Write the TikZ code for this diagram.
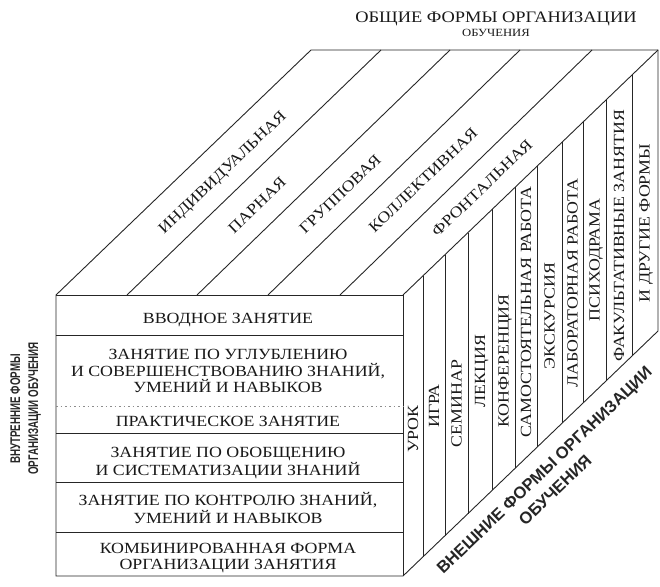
\documentclass[tikz,border=0pt]{standalone}
\usepackage{fontspec}
\setmainfont{Liberation Serif}[FakeStretch=1.15]
\newfontfamily\sansw{Liberation Sans}
\newfontfamily\sansn{Liberation Sans}[FakeStretch=0.7]
\usetikzlibrary{calc}
\begin{document}
\begin{tikzpicture}[x=1pt,y=-1pt,
  edge/.style={line width=0.9pt, black!85},
  lab/.style={inner sep=0pt, text height=10.3pt, text depth=0pt, font=\fontsize{15.5}{17}\selectfont, text=black!90},
  tlab/.style={lab, rotate=43.8},
  rlab/.style={lab, rotate=90},
  sidelab/.style={inner sep=0pt, text height=10pt, text depth=0pt, font=\sansn\bfseries\fontsize{14}{16}\selectfont, rotate=90, text=black!85},
  outlab/.style={inner sep=0pt, text height=11.9pt, text depth=0pt, font=\sansw\bfseries\fontsize{16.6}{18}\selectfont, rotate=43.8, text=black!85}]
\fill[white] (0,0) rectangle (660,586);
\useasboundingbox (0,0) rectangle (660,586);
% corners of the block
\coordinate (A) at (56,295);
\coordinate (B) at (403,295);
\coordinate (C) at (403,576);
\coordinate (D) at (56,576);
\coordinate (E) at (311,50);
\coordinate (F) at (658,50);
\coordinate (G) at (658,331);
\draw[edge] (A) -- (E) -- (F) -- (G) -- (C) -- (D) -- cycle;
\draw[edge] (A) -- (B) -- (C);
\draw[edge] (B) -- (F);
% strips of the top face
\foreach \a/\b in {127/381,197/450,268/520,340/592}
  \draw[edge] (\a,295) -- (\b,50);
% columns of the right face
\foreach \x in {423,445,468,492,515,537,562,583,606,632}
  \draw[edge] (\x,{295-(\x-403)*0.9608}) -- (\x,{576-(\x-403)*0.9608});
% rows of the front face
\foreach \y in {335,433,482,532}
  \draw[edge] (56,\y) -- (403,\y);
\draw[black!45, line width=0.7pt, dash pattern=on 1.5pt off 3pt] (56,406) -- (403,406);
% front face texts
\node[lab] (f1) at (228,318) {ВВОДНОЕ ЗАНЯТИЕ};
\node[lab] (f2a) at (228,354) {ЗАНЯТИЕ ПО УГЛУБЛЕНИЮ};
\node[lab] (f2b) at (228,371) {И СОВЕРШЕНСТВОВАНИЮ ЗНАНИЙ,};
\node[lab] (f2c) at (228,387.5) {УМЕНИЙ И НАВЫКОВ};
\node[lab] (f3) at (228,421.5) {ПРАКТИЧЕСКОЕ ЗАНЯТИЕ};
\node[lab] (f4a) at (228,452) {ЗАНЯТИЕ ПО ОБОБЩЕНИЮ};
\node[lab] (f4b) at (228,470) {И СИСТЕМАТИЗАЦИИ ЗНАНИЙ};
\node[lab] (f5a) at (228,500) {ЗАНЯТИЕ ПО КОНТРОЛЮ ЗНАНИЙ,};
\node[lab] (f5b) at (228,518) {УМЕНИЙ И НАВЫКОВ};
\node[lab] (f6a) at (228,548) {КОМБИНИРОВАННАЯ ФОРМА};
\node[lab] (f6b) at (228,564) {ОРГАНИЗАЦИИ ЗАНЯТИЯ};
% top face texts
\node[tlab] (t1) at (222,172) {ИНДИВИДУАЛЬНАЯ};
\node[tlab] (t2) at (257,205) {ПАРНАЯ};
\node[tlab] (t3) at (340,194) {ГРУППОВАЯ};
\node[tlab] (t4) at (423,180) {КОЛЛЕКТИВНАЯ};
\node[tlab] (t5) at (482,188) {ФРОНТАЛЬНАЯ};
% right face texts
\node[rlab] (r1) at (413,429) {УРОК};
\node[rlab] (r2) at (434,406) {ИГРА};
\node[rlab] (r3) at (456.5,403.5) {СЕМИНАР};
\node[rlab] (r4) at (480,371) {ЛЕКЦИЯ};
\node[rlab] (r5) at (503.5,361) {КОНФЕРЕНЦИЯ};
\node[rlab] (r6) at (526,312) {САМОСТОЯТЕЛЬНАЯ РАБОТА};
\node[rlab] (r7) at (549.5,316) {ЭКСКУРСИЯ};
\node[rlab] (r8) at (572.5,283) {ЛАБОРАТОРНАЯ РАБОТА};
\node[rlab] (r9) at (594.5,260) {ПСИХОДРАМА};
\node[rlab] (r10) at (619,236) {ФАКУЛЬТАТИВНЫЕ ЗАНЯТИЯ};
\node[rlab] (r11) at (644.5,223) {И ДРУГИЕ ФОРМЫ};
% headings
\node[lab, font=\fontsize{16}{18}\selectfont] (h1) at (496,17) {ОБЩИЕ ФОРМЫ ОРГАНИЗАЦИИ};
\node[lab, text height=7.3pt, font=\fontsize{11}{13}\selectfont] (h2) at (496,33) {ОБУЧЕНИЯ};
\node[sidelab] (s1) at (15,409) {ВНУТРЕННИЕ ФОРМЫ};
\node[sidelab] (s2) at (33,408.5) {ОРГАНИЗАЦИИ ОБУЧЕНИЯ};
\node[outlab] (o1) at (544,470) {ВНЕШНИЕ ФОРМЫ ОРГАНИЗАЦИИ};
\node[outlab] (o2) at (555,490) {ОБУЧЕНИЯ};
\end{tikzpicture}
\end{document}
